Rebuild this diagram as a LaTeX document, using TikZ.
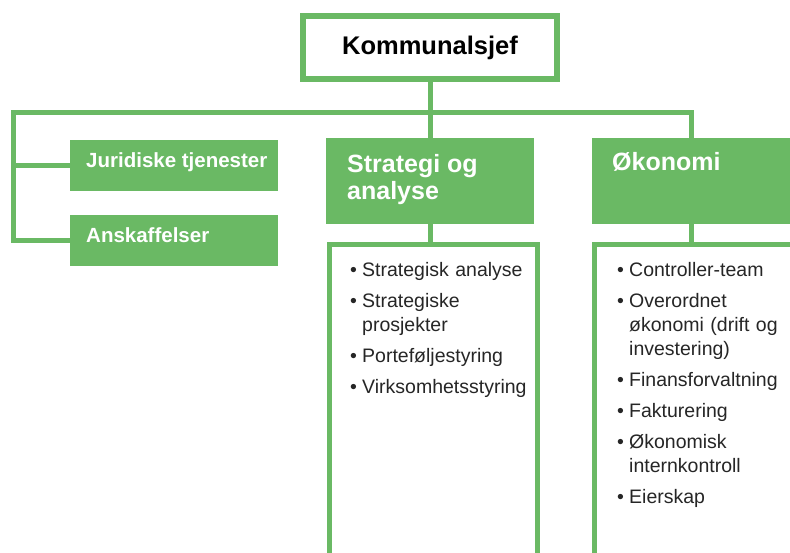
\documentclass[tikz,border=0pt]{standalone}
\usepackage{fontspec}
\setmainfont{Liberation Sans}
\definecolor{grn}{RGB}{106,185,100}
\newcommand\bitem[1]{\par\hangindent=12pt\hangafter=1\noindent\makebox[12pt][l]{\textbullet}#1\par\vspace{7pt}}
\newcommand\lsetup{\raggedright\hyphenpenalty=10000 \exhyphenpenalty=10000 }
\tikzset{
  conn/.style={draw=grn, line width=5pt},
  fillbox/.style={fill=grn, draw=none, inner sep=0pt},
  outbox/.style={draw=grn, line width=5pt, fill=white, inner sep=0pt},
  boxtext/.style={text=white, font=\bfseries\fontsize{25}{27.5}\selectfont, inner sep=0pt, align=left},
  smalltext/.style={text=white, font=\bfseries\fontsize{20.5}{24}\selectfont, inner sep=0pt},
  listtext/.style={text=black!85, font=\fontsize{19.5}{24}\selectfont, inner sep=0pt},
}
\begin{document}
\begin{tikzpicture}[x=1pt,y=-1pt]
\useasboundingbox (0,0) rectangle (790,553);
\clip (0,0) rectangle (790,553);
\fill[white] (0,0) rectangle (790,553);
% top box
\node[draw=grn, line width=6pt, minimum width=254pt, minimum height=63pt, inner sep=0pt,
      font=\bfseries\fontsize{25.5}{28}\selectfont] (kom) at (430,47.5) {Kommunalsjef};
% green boxes
\node[fillbox, minimum width=208pt, minimum height=51pt, anchor=north west] (jur) at (70,140) {};
\node[fillbox, minimum width=208pt, minimum height=51pt, anchor=north west] (ansk) at (70,215) {};
\node[fillbox, minimum width=208pt, minimum height=86pt, anchor=north] (strat) at (430,138) {};
\node[fillbox, minimum width=198pt, minimum height=86pt, anchor=north west] (oko) at (592,138) {};
\node[smalltext, anchor=base west] (jurt) at (86,168) {Juridiske tjenester};
\node[smalltext, anchor=base west] (anskt) at (86,243) {Anskaffelser};
\node[boxtext, anchor=north west] (stratt) at (347,154) {Strategi og\\analyse};
\node[boxtext, anchor=north west] (okot) at (612,152) {Økonomi};
% list boxes
\node[outbox, minimum width=208pt, minimum height=400pt, anchor=north] (slist) at (433,242) {};
\node[outbox, minimum width=230pt, minimum height=400pt, anchor=north west] (olist) at (592,242) {};
% connectors
\coordinate (bar) at (13,113);
\draw[conn] (jur.west) -| (bar) -| (oko.north);
\draw[conn] (ansk.west) -| (bar);
\draw[conn] (kom.south) -- (strat.north);
\draw[conn] (strat.south) -- (strat.south |- slist.north);
\draw[conn] (oko.south) -- (oko.south |- olist.north);
% list texts
\node[listtext, text width=185pt, anchor=north west] (sitems) at (350,252) {\lsetup
\bitem{Strategisk analyse}
\bitem{Strategiske prosjekter}
\bitem{Porteføljestyring}
\bitem{Virksomhetsstyring}};
\node[listtext, text width=172pt, anchor=north west] (oitems) at (617,252) {\lsetup
\bitem{Controller-team}
\bitem{Overordnet økonomi (drift og investering)}
\bitem{Finansforvaltning}
\bitem{Fakturering}
\bitem{Økonomisk internkontroll}
\bitem{Eierskap}};
\end{tikzpicture}
\end{document}
